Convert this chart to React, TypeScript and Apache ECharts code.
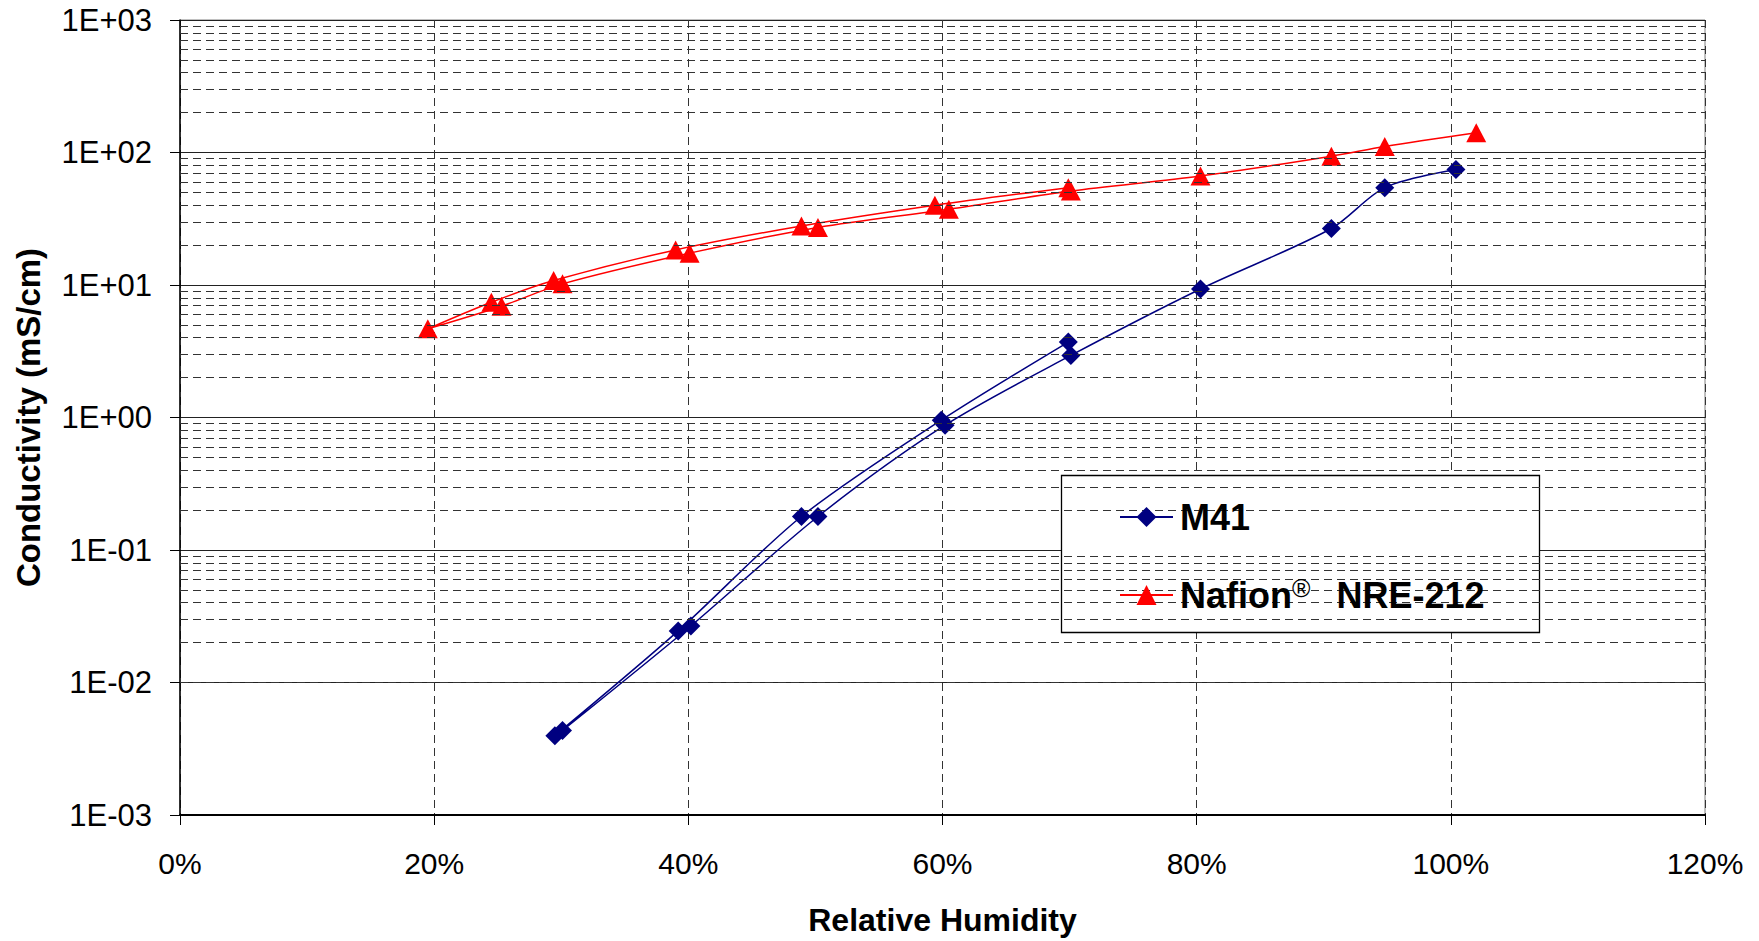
import React, { useEffect, useRef } from "react";
import * as echarts from "echarts";

// Relative humidity (%) and conductivity (mS/cm), in drawing order (down-sweep then up-sweep)
const m41RH = [69.9, 59.9, 48.9, 39.2, 29.5, 30.1, 40.2, 50.2, 60.2, 70.1, 80.3, 90.6, 94.8, 100.4];
const m41Cond = [3.71, 0.955, 0.179, 0.0245, 0.00397, 0.00434, 0.0267, 0.179, 0.875, 2.94, 9.33, 26.7, 54.3, 74.5];

const nafionRH = [69.9, 59.4, 48.9, 39.0, 29.4, 24.5, 19.5, 25.3, 30.1, 40.1, 50.2, 60.5, 70.1, 80.3, 90.6, 94.8, 102.0];
const nafionCond = [54.3, 40.0, 27.9, 18.4, 10.8, 7.41, 4.67, 6.92, 10.2, 17.4, 27.2, 37.3, 51.2, 66.4, 93.8, 111, 141];

const seriesNames = ["M41", "Nafion® NRE-212"];
const xTicks = { min: 0, max: 120, interval: 20 };
const yRange = { min: 0.001, max: 1000 };
const minorMultipliers = [2, 3, 4, 5, 6, 7, 8, 9];
const decadeExponents = [-3, -2, -1, 0, 1, 2];

const FONT = "'Liberation Sans', Arial, Helvetica, sans-serif";

function fmtE(v: number): string {
  const e = Math.round(Math.log10(v));
  const sign = e < 0 ? "-" : "+";
  const a = Math.abs(e);
  return "1E" + sign + (a < 10 ? "0" + a : String(a));
}

export default function App() {
  const ref = useRef<HTMLDivElement>(null);
  useEffect(() => {
    if (!ref.current) return;
    const chart = echarts.init(ref.current, undefined, { renderer: "svg" });

    const minorValues: number[] = [];
    decadeExponents.forEach((e) => {
      minorMultipliers.forEach((m) => minorValues.push(+(m * Math.pow(10, e)).toPrecision(6)));
    });

    const option: any = {
      animation: false,
      backgroundColor: "#ffffff",
      grid: {
        left: 180,
        right: 54,
        top: 20,
        bottom: 123,
        show: true,
        borderColor: "#808080",
        borderWidth: 1,
        backgroundColor: "transparent",
      },
      legend: {
        data: seriesNames,
        orient: "vertical",
        left: 1119,
        top: 497,
        itemWidth: 53,
        itemHeight: 25,
        itemGap: 38,
        z: 6,
        padding: 0,
        selectedMode: false,
        formatter: (name: string) =>
          name === "M41" ? "{n|M41}" : "{n|Nafion}{s|®}{m|NRE-212}",
        textStyle: {
          fontFamily: FONT,
          fontWeight: "bold",
          fontSize: 36,
          color: "#000",
          lineHeight: 40,
          padding: [0, 0, 0, 2],
          rich: {
            n: { fontFamily: FONT, fontWeight: "bold", fontSize: 36, lineHeight: 40, color: "#000" },
            s: { fontFamily: FONT, fontWeight: "normal", fontSize: 25, lineHeight: 14, verticalAlign: "top", color: "#000" },
            m: { fontFamily: FONT, fontWeight: "bold", fontSize: 36, lineHeight: 40, color: "#000", padding: [0, 0, 0, 26] },
          },
        },
      },
      graphic: [
        {
          type: "rect",
          z: 5,
          shape: { x: 1061.5, y: 475.5, width: 478, height: 157 },
          style: { fill: "#ffffff", stroke: "#000000", lineWidth: 1.3 },
          silent: true,
        },
      ],
      xAxis: {
        type: "value",
        min: xTicks.min,
        max: xTicks.max,
        interval: xTicks.interval,
        name: "Relative Humidity",
        nameLocation: "middle",
        nameGap: 89,
        nameTextStyle: { fontFamily: FONT, fontWeight: "bold", fontSize: 32, color: "#000" },
        axisLine: { show: true, onZero: false, lineStyle: { color: "#000", width: 2 } },
        axisTick: { show: true, length: 10, lineStyle: { color: "#000", width: 1 } },
        axisLabel: {
          margin: 33,
          fontFamily: FONT,
          fontSize: 30,
          color: "#000",
          formatter: (v: number) => v + "%",
        },
        splitLine: { show: true, lineStyle: { color: "#333", width: 1, type: [8, 5] } },
      },
      yAxis: {
        type: "log",
        logBase: 10,
        min: yRange.min,
        max: yRange.max,
        splitNumber: 6,
        name: "Conductivity (mS/cm)",
        nameLocation: "middle",
        nameRotate: 90,
        nameGap: 135,
        nameTextStyle: { fontFamily: FONT, fontWeight: "bold", fontSize: 33, color: "#000" },
        axisLine: { show: true, lineStyle: { color: "#000", width: 1.5 } },
        axisTick: { show: true, length: 10, lineStyle: { color: "#000", width: 1 } },
        axisLabel: {
          margin: 28,
          fontFamily: FONT,
          fontSize: 31,
          color: "#000",
          formatter: (v: number) => fmtE(v),
        },
        splitLine: { show: true, lineStyle: { color: "#222", width: 1, type: "solid" } },
        minorTick: { show: false },
        minorSplitLine: { show: false },
      },
      series: [
        {
          name: "_minorGrid",
          type: "line",
          data: [],
          z: 1,
          silent: true,
          markLine: {
            silent: true,
            symbol: ["none", "none"],
            label: { show: false },
            emphasis: { disabled: true },
            lineStyle: { color: "#333", width: 1, type: [8, 5] },
            data: minorValues.map((v) => ({ yAxis: v })),
          },
        },
        {
          name: seriesNames[0],
          type: "line",
          data: m41RH.map((x, i) => [x, m41Cond[i]]),
          smooth: 0.3,
          symbol: "diamond",
          symbolSize: 19,
          z: 3,
          itemStyle: { color: "#000080" },
          lineStyle: { color: "#000080", width: 1.5 },
        },
        {
          name: seriesNames[1],
          type: "line",
          data: nafionRH.map((x, i) => [x, nafionCond[i]]),
          smooth: 0.3,
          symbol: "triangle",
          symbolSize: [20, 19],
          z: 3,
          itemStyle: { color: "#FF0000" },
          lineStyle: { color: "#FF0000", width: 1.5 },
        },
      ],
    };
    chart.setOption(option);
    return () => chart.dispose();
  }, []);

  return (
    <div
      ref={ref}
      style={{ position: "fixed", left: 0, top: 0, width: 1759, height: 941, background: "#fff" }}
    />
  );
}
